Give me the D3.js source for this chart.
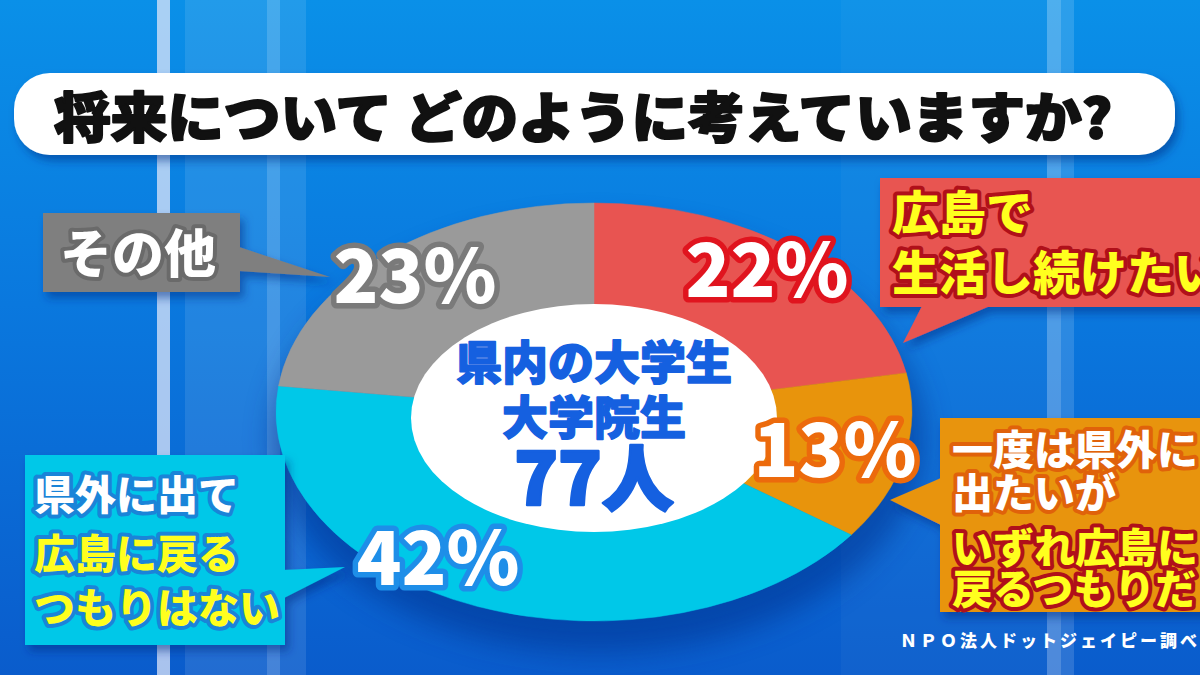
<!DOCTYPE html>
<html>
<head>
<meta charset="utf-8">
<script src="https://cdn.jsdelivr.net/npm/d3@7"></script>
<style>
  body { margin: 0; background: #0a6ad8; overflow: hidden; }
  text { font-family: "Noto Sans CJK JP", "Noto Sans", sans-serif; font-weight: 900; }
</style>
</head>
<body>
<svg id="chart" width="1200" height="675"></svg>
<script>
// Survey data
var categories = ["広島で生活し続けたい", "一度は県外に出たいが いずれ広島に戻るつもりだ", "県外に出て広島に戻るつもりはない", "その他"];
var shares = [22, 13, 42, 23];
var calloutLines = [
    ["広島で", "生活し続けたい"],
    ["一度は県外に", "出たいが", "いずれ広島に", "戻るつもりだ"],
    ["県外に出て", "広島に戻る", "つもりはない"],
    ["その他"]
];
var titleText = "将来について どのように考えていますか?";
var centerLines = ["県内の大学生", "大学院生", "77人"];
var sourceText = "ＮＰＯ法人ドットジェイピー調べ";

// Colours
var sliceColors = ["#e85451", "#e8940c", "#00c8e8", "#9a9a9a"];
var boxColors = ["#e85451", "#e8940c", "#00c8e8", "#7f7f7f"];
var pctStroke = ["#e0141e", "#ec6a0c", "#1e8ee8", "#7a7a7a"];

// Layout (positions of the hand placed callouts and labels)
var pctPos = [[767, 297], [835, 477], [438, 585], [415, 303]];
var boxes = [
    {x: 880, y: 178, w: 340, h: 129, tail: [[922, 306], [990, 306], [903, 343]], size: 47, lineY: [230, 290], fills: ["#ffff1e", "#ffff1e"], strokes: ["#b0101a", "#b0101a"], tx: 892},
    {x: 940, y: 418, w: 280, h: 194, tail: [[941, 478], [941, 525], [890, 500]], size: 41, lineY: [465, 508, 563, 604], fills: ["#ffffff", "#ffffff", "#ffff1e", "#ffff1e"], strokes: ["#e0620a", "#e0620a", "#b0101a", "#b0101a"], tx: 952},
    {x: 25, y: 455, w: 260, h: 190, tail: [[284, 570], [284, 598], [345, 567]], size: 41, lineY: [510, 569, 623], fills: ["#ffffff", "#ffff1e", "#ffff1e"], strokes: ["#1a84d8", "#1a84d8", "#1a84d8"], tx: 34},
    {x: 43, y: 213, w: 197, h: 79, tail: [[239, 247], [239, 271], [330, 277]], size: 52, lineY: [273], fills: ["#ffffff"], strokes: ["#6a6a6a"], tx: 60}
];

var width = 1200, height = 675;
var cx = 594, cy = 412, rx = 318, ry = 209;

var svg = d3.select("#chart");
var defs = svg.append("defs");

// Background gradient
var bg = defs.append("linearGradient").attr("id", "bg").attr("x1", 0).attr("y1", 0).attr("x2", 0).attr("y2", 1);
bg.append("stop").attr("offset", "0%").attr("stop-color", "#0a90e8");
bg.append("stop").attr("offset", "45%").attr("stop-color", "#0a78de");
bg.append("stop").attr("offset", "100%").attr("stop-color", "#0a5ccc");

var shadow = defs.append("filter").attr("id", "shadow").attr("x", "-20%").attr("y", "-20%").attr("width", "140%").attr("height", "150%");
shadow.append("feDropShadow").attr("dx", 4).attr("dy", 6).attr("stdDeviation", 4)
    .attr("flood-color", "#002a80").attr("flood-opacity", 0.5);

var blur = defs.append("filter").attr("id", "blur").attr("x", "-20%").attr("y", "-20%").attr("width", "140%").attr("height", "140%");
blur.append("feGaussianBlur").attr("stdDeviation", 14);

svg.append("rect").attr("width", width).attr("height", height).attr("fill", "url(#bg)");

// Vertical stripes of the studio background
var stripes = [
    {x: 185, w: 121, c: "#ffffff", o: 0.1},
    {x: 157, w: 13, c: "#dfe6f8", o: 0.75},
    {x: 267, w: 13, c: "#ffffff", o: 0.16},
    {x: 841, w: 206, c: "#ffffff", o: 0.03},
    {x: 1047, w: 14, c: "#ffffff", o: 0.28},
    {x: 1061, w: 13, c: "#ffffff", o: 0.14}
];
svg.selectAll("rect.stripe")
    .data(stripes)
    .enter()
    .append("rect")
    .attr("class", "stripe")
    .attr("x", function(d) { return d.x; })
    .attr("y", 0)
    .attr("width", function(d) { return d.w; })
    .attr("height", height)
    .attr("fill", function(d) { return d.c; })
    .attr("opacity", function(d) { return d.o; });

// Title bar
svg.append("rect")
    .attr("x", 14).attr("y", 73).attr("width", 1161).attr("height", 82)
    .attr("rx", 36).attr("fill", "#ffffff")
    .attr("filter", "url(#shadow)");
svg.append("text")
    .attr("x", 54).attr("y", 138)
    .attr("font-size", 54)
    .attr("fill", "#111111")
    .attr("stroke", "#111111")
    .attr("stroke-width", 2)
    .attr("stroke-linejoin", "round")
    .attr("textLength", 1058)
    .attr("lengthAdjust", "spacingAndGlyphs")
    .text(titleText);

// Pie shadow
svg.append("ellipse")
    .attr("cx", cx + 4).attr("cy", cy + 26)
    .attr("rx", rx + 8).attr("ry", ry + 6)
    .attr("fill", "#00338f").attr("opacity", 0.55)
    .attr("filter", "url(#blur)");

// Elliptical pie: unit circle scaled on x and y
var pie = d3.pie().sort(null).value(function(d) { return d; });
var arc = d3.arc().innerRadius(0).outerRadius(1);

var pieG = svg.append("g")
    .attr("transform", "translate(" + cx + "," + cy + ") scale(" + rx + "," + ry + ")");
pieG.selectAll("path")
    .data(pie(shares))
    .enter()
    .append("path")
    .attr("d", arc)
    .attr("fill", function(d, i) { return sliceColors[i]; })
    .attr("stroke", function(d, i) { return sliceColors[i]; })
    .attr("stroke-width", 0.5)
    .attr("vector-effect", "non-scaling-stroke");

// White hole
svg.append("ellipse")
    .attr("cx", cx).attr("cy", cy + 6)
    .attr("rx", 183).attr("ry", 114)
    .attr("fill", "#ffffff");

// Centre text
var centerSizes = [46, 46, 72];
var centerY = [379, 434, 505];
svg.selectAll("text.center")
    .data(centerLines)
    .enter()
    .append("text")
    .attr("class", "center")
    .attr("x", cx)
    .attr("y", function(d, i) { return centerY[i]; })
    .attr("text-anchor", "middle")
    .attr("font-size", function(d, i) { return centerSizes[i]; })
    .attr("fill", "#1560e0")
    .attr("stroke", "#1560e0")
    .attr("stroke-width", function(d, i) { return i === 2 ? 2.5 : 1.5; })
    .attr("stroke-linejoin", "round")
    .text(function(d) { return d; });

// Callout boxes
boxes.forEach(function(b, i) {
    var g = svg.append("g").attr("filter", "url(#shadow)");
    g.append("rect")
        .attr("x", b.x).attr("y", b.y).attr("width", b.w).attr("height", b.h)
        .attr("fill", boxColors[i]);
    g.append("polygon")
        .attr("points", b.tail.map(function(p) { return p.join(","); }).join(" "))
        .attr("fill", boxColors[i]);

    svg.selectAll("text.call" + i)
        .data(calloutLines[i])
        .enter()
        .append("text")
        .attr("class", "call" + i)
        .attr("x", b.tx)
        .attr("y", function(d, j) { return b.lineY[j]; })
        .attr("font-size", b.size)
        .attr("fill", function(d, j) { return b.fills[j]; })
        .attr("stroke", function(d, j) { return b.strokes[j]; })
        .attr("stroke-width", 8)
        .attr("stroke-linejoin", "round")
        .attr("paint-order", "stroke")
        .text(function(d) { return d; });
});

// Percent labels
svg.selectAll("text.pct")
    .data(shares)
    .enter()
    .append("text")
    .attr("class", "pct")
    .attr("x", function(d, i) { return pctPos[i][0]; })
    .attr("y", function(d, i) { return pctPos[i][1]; })
    .attr("text-anchor", "middle")
    .attr("font-size", 74)
    .attr("fill", "#ffffff")
    .attr("stroke", function(d, i) { return pctStroke[i]; })
    .attr("stroke-width", 11)
    .attr("stroke-linejoin", "round")
    .attr("paint-order", "stroke")
    .text(function(d) { return d + "%"; });

// Source
svg.append("text")
    .attr("x", 900).attr("y", 647)
    .attr("font-size", 17)
    .attr("font-weight", 700)
    .attr("letter-spacing", 3)
    .attr("fill", "#ffffff")
    .text(sourceText);
</script>
</body>
</html>
